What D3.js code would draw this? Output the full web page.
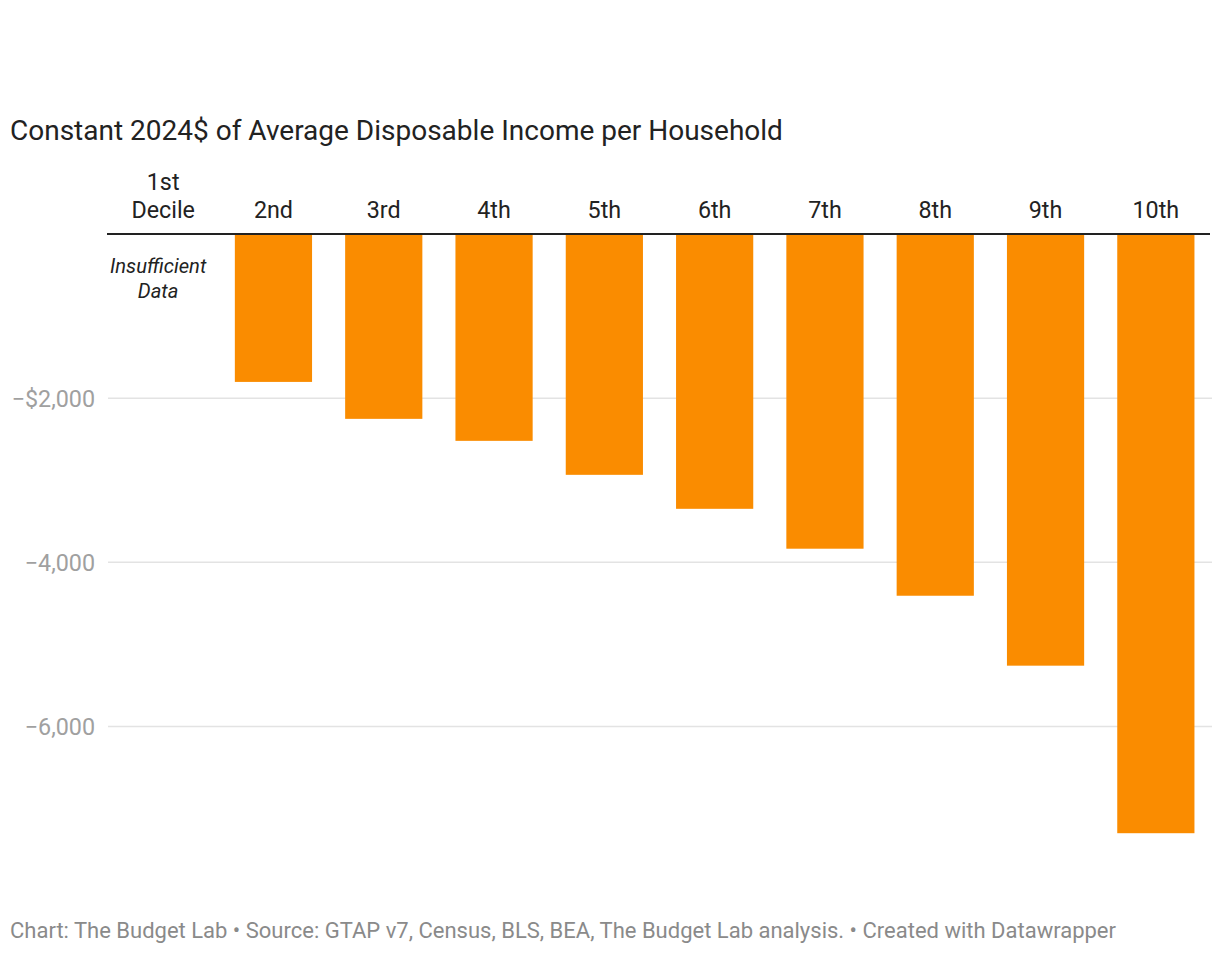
<!DOCTYPE html>
<html>
<head>
<meta charset="utf-8">
<script src="https://cdn.jsdelivr.net/npm/d3@7"></script>
<style>
  body { margin: 0; background: #fff; font-family: Roboto, "Noto Sans", sans-serif; }
</style>
</head>
<body>
<script>
var deciles = ["1st", "2nd", "3rd", "4th", "5th", "6th", "7th", "8th", "9th", "10th"];
var values = [null, -1802, -2252, -2520, -2934, -3348, -3834, -4407, -5259, -7300];
var ticks = [-2000, -4000, -6000];

var width = 1220, height = 954;
var svg = d3.select("body").append("svg")
    .attr("width", width)
    .attr("height", height);

var x = d3.scaleBand()
    .domain(deciles)
    .range([108, 1211])
    .paddingInner(0.3)
    .paddingOuter(0.15);

var y = d3.scaleLinear()
    .domain([0, -6000])
    .range([234, 726.5]);

// title
svg.append("text")
    .attr("x", 10)
    .attr("y", 140)
    .style("font-size", "28px")
    .style("fill", "#222")
    .text("Constant 2024$ of Average Disposable Income per Household");

// grid lines
svg.selectAll(".grid")
    .data(ticks)
    .enter().append("line")
    .attr("x1", 108)
    .attr("x2", 1212)
    .attr("y1", function(d) { return y(d); })
    .attr("y2", function(d) { return y(d); })
    .style("stroke", "#e3e3e3")
    .style("stroke-width", 1.5);

svg.selectAll(".tick-label")
    .data(ticks)
    .enter().append("text")
    .attr("x", 95)
    .attr("y", function(d) { return y(d) + 8.5; })
    .attr("text-anchor", "end")
    .style("font-size", "23.3px")
    .style("fill", "#a0a0a0")
    .text(function(d, i) {
        var s = d3.format(",")(Math.abs(d));
        return "\u2212" + (i === 0 ? "$" : "") + s;
    });

// bars
svg.selectAll(".bar")
    .data(deciles.filter(function(d, i) { return values[i] !== null; }))
    .enter().append("rect")
    .attr("x", function(d) { return x(d); })
    .attr("width", x.bandwidth())
    .attr("y", y(0))
    .attr("height", function(d) { return y(values[deciles.indexOf(d)]) - y(0); })
    .style("fill", "#fa8c00");

// baseline
svg.append("line")
    .attr("x1", 107)
    .attr("x2", 1210)
    .attr("y1", y(0))
    .attr("y2", y(0))
    .style("stroke", "#222")
    .style("stroke-width", 2);

// category labels
svg.selectAll(".cat")
    .data(deciles)
    .enter().append("text")
    .attr("x", function(d) { return x(d) + x.bandwidth() / 2; })
    .attr("y", 218)
    .attr("text-anchor", "middle")
    .style("font-size", "23.3px")
    .style("fill", "#222")
    .text(function(d, i) { return i === 0 ? "Decile" : d; });

svg.append("text")
    .attr("x", x(deciles[0]) + x.bandwidth() / 2)
    .attr("y", 190)
    .attr("text-anchor", "middle")
    .style("font-size", "23.3px")
    .style("fill", "#222")
    .text(deciles[0]);

// note for missing decile
var cx0 = x(deciles[0]) + x.bandwidth() / 2;
var note = svg.append("text")
    .attr("text-anchor", "middle")
    .style("font-size", "20.2px")
    .style("font-style", "italic")
    .style("fill", "#222");
note.append("tspan").attr("x", cx0 - 5).attr("y", 273).text("Insufficient");
note.append("tspan").attr("x", cx0 - 5).attr("y", 298).text("Data");

// footer
svg.append("text")
    .attr("x", 10)
    .attr("y", 938)
    .style("font-size", "22px")
    .style("fill", "#8a8a8a")
    .text("Chart: The Budget Lab \u2022 Source: GTAP v7, Census, BLS, BEA, The Budget Lab analysis. \u2022 Created with Datawrapper");
</script>
</body>
</html>
